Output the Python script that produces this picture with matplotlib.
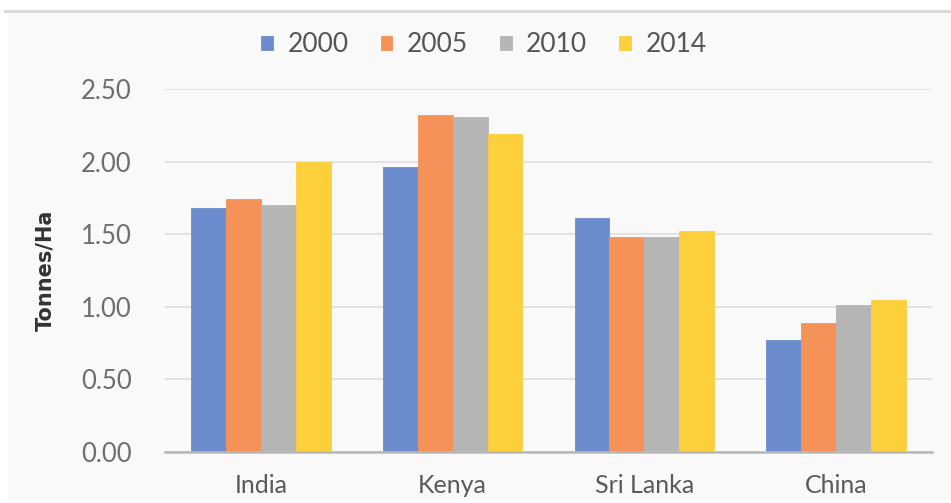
import matplotlib
matplotlib.use("Agg")
import matplotlib.pyplot as plt
from matplotlib.patches import Rectangle
import numpy as np

countries = ["India", "Kenya", "Sri Lanka", "China"]
years = ["2000", "2005", "2010", "2014"]
yield_2000 = [1.68, 1.96, 1.61, 0.77]
yield_2005 = [1.74, 2.32, 1.48, 0.89]
yield_2010 = [1.70, 2.31, 1.48, 1.01]
yield_2014 = [2.00, 2.19, 1.52, 1.05]
yticks = [0.0, 0.5, 1.0, 1.5, 2.0, 2.5]

series = [yield_2000, yield_2005, yield_2010, yield_2014]
colors = ["#6d8cce", "#f5925a", "#b5b5b5", "#fccf3c"]

fig = plt.figure(figsize=(9.51, 5.03), dpi=100)
fig.patch.set_facecolor("white")

# panel background behind the chart
panel = Rectangle((8 / 951, 3 / 503), 943 / 951, 490 / 503, transform=fig.transFigure,
                  facecolor="#f9f9f9", edgecolor="none", zorder=-5)
fig.add_artist(panel)
fig.add_artist(plt.Line2D([5 / 951, 1], [1 - 11 / 503, 1 - 11 / 503], transform=fig.transFigure,
                          color="#d6d6d6", lw=2, zorder=-4))

ax = fig.add_axes([165 / 951, (503 - 452) / 503, (932 - 165) / 951, (452 - 89) / 503])
ax.set_facecolor("none")

x = np.arange(len(countries))
w = 0.182
for i, (vals, col) in enumerate(zip(series, colors)):
    ax.bar(x + (i - 1.5) * w, vals, width=w, color=col, label=years[i], zorder=3,
           edgecolor=col, linewidth=0.6)

ax.set_xlim(-0.5, 3.5)
ax.set_ylim(0, 2.5)
ax.set_yticks(yticks)
ax.set_yticklabels([f"{v:.2f}" for v in yticks], fontfamily="Lato", fontsize=18.5, color="#6e6e6e")
ax.set_xticks(x)
ax.set_xticklabels(countries, fontfamily="Lato", fontsize=18, color="#5a5a5a")
ax.tick_params(axis="both", length=0)
ax.tick_params(axis="y", pad=24)
ax.tick_params(axis="x", pad=16)

ax.grid(axis="y", color="#e3e3e3", lw=1.5, zorder=0)
for s in ["top", "right", "left"]:
    ax.spines[s].set_visible(False)
ax.spines["bottom"].set_color("#b8b8b8")
ax.spines["bottom"].set_linewidth(1.8)
ax.spines["bottom"].set_zorder(4)

ax.set_ylabel("Tonnes/Ha", fontfamily=["Liberation Sans Narrow", "DejaVu Sans"], fontweight="bold",
              fontsize=15, color="#333333", labelpad=18)

fig.legend(loc="center", bbox_to_anchor=(484 / 951, 1 - 45 / 503), ncol=4, frameon=False,
           prop={"family": "Lato", "size": 19}, handlelength=0.45, handleheight=0.45,
           handletextpad=0.55, columnspacing=1.2, labelcolor="#555555")

fig.savefig("out.png", dpi=100, facecolor=fig.get_facecolor())
